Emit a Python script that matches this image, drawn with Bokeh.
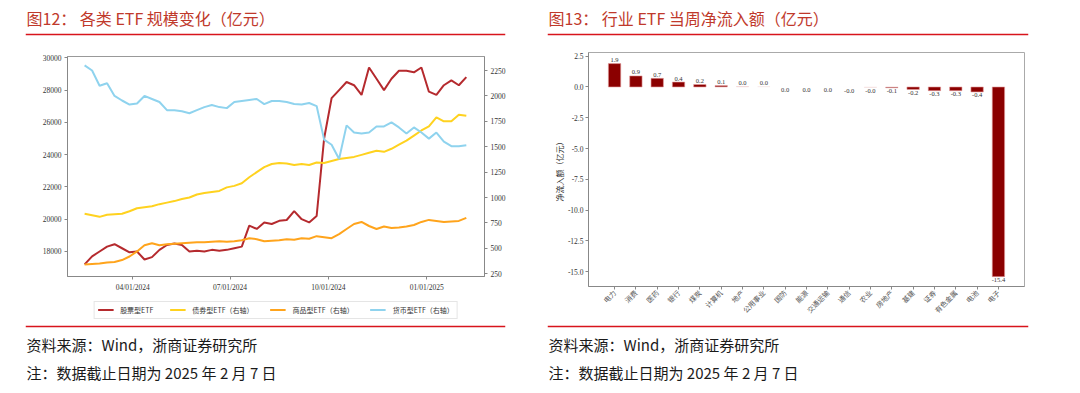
import math
import pandas as pd
from bokeh.plotting import figure
from bokeh.models import (Range1d, LinearAxis, FixedTicker, DatetimeTickFormatter, Legend,
                          LegendItem, Span, Label, ColumnDataSource, FactorRange,
                          PrintfTickFormatter)
from bokeh.layouts import row, column
from bokeh.embed import file_html
from bokeh.resources import INLINE
from bokeh.core.properties import value

# ---------------- data: figure 12 (weekly, 2024-02-16 .. 2025-02-07) ----------------
dates = pd.date_range("2024-02-16", "2025-02-07", freq="7D")
stock_etf = [17200, 17700, 18000, 18300, 18450, 18200, 17950, 18000, 17500, 17650,
             18100, 18400, 18500, 18400, 18000, 18050, 18000, 18100, 18050, 18100,
             18200, 18300, 19600, 19400, 19800, 19700, 19900, 19950, 20500, 20000,
             19800, 20200, 25000, 27500, 28000, 28500, 28300, 27700, 29400, 28700,
             28000, 28700, 29200, 29200, 29100, 29400, 27900, 27700, 28300, 28600,
             28300, 28800]
bond_etf = [840, 825, 810, 830, 835, 840, 865, 895, 905, 915,
            935, 950, 965, 985, 1000, 1030, 1045, 1055, 1065, 1100,
            1115, 1140, 1200, 1250, 1300, 1330, 1340, 1335, 1320, 1330,
            1320, 1345, 1340, 1360, 1380, 1390, 1400, 1420, 1440, 1460,
            1450, 1480, 1520, 1560, 1610, 1660, 1700, 1790, 1750, 1750,
            1815, 1805]
commodity_etf = [340, 345, 350, 360, 365, 385, 420, 470, 530, 550,
                 530, 540, 545, 550, 555, 560, 560, 565, 570, 565,
                 570, 580, 600, 590, 570, 575, 580, 590, 585, 600,
                 595, 620, 610, 600, 640, 690, 740, 760, 720, 690,
                 715, 700, 705, 715, 730, 760, 780, 770, 760, 765,
                 770, 800]
money_etf = [2300, 2250, 2100, 2125, 2000, 1955, 1915, 1925, 2000, 1970,
             1940, 1860, 1860, 1850, 1830, 1860, 1890, 1910, 1890, 1880,
             1940, 1950, 1960, 1970, 1920, 1950, 1950, 1940, 1920, 1915,
             1930, 1900, 1570, 1520, 1380, 1710, 1640, 1630, 1640, 1700,
             1700, 1740, 1690, 1630, 1690, 1640, 1580, 1640, 1550, 1505,
             1505, 1515]
series_names = ["股票型ETF", "债券型ETF（右轴）", "商品型ETF（右轴）", "货币型ETF（右轴）"]
x_tick_dates = ["2024-04-01", "2024-07-01", "2024-10-01", "2025-01-01"]
left_ticks = [18000, 20000, 22000, 24000, 26000, 28000, 30000]
right_ticks = [250, 500, 750, 1000, 1250, 1500, 1750, 2000, 2250]

# ---------------- data: figure 13 ----------------
industries = ["电力", "消费", "医药", "银行", "煤炭", "计算机", "地产", "公用事业", "国防",
              "能源", "交通运输", "通信", "农业", "房地产", "基建", "证券", "有色金属",
              "电池", "电子"]
flows = [1.9, 0.9, 0.7, 0.4, 0.2, 0.12, 0.03, 0.02, 0.0, 0.0, 0.0, -0.004, -0.03,
         -0.08, -0.2, -0.3, -0.3, -0.4, -15.4]
flow_ticks = [-15.0, -12.5, -10.0, -7.5, -5.0, -2.5, 0.0, 2.5]

title12 = "图12：  各类  ETF  规模变化（亿元）"
title13 = "图13：  行业  ETF  当周净流入额（亿元）"
source_text = "资料来源：Wind，浙商证券研究所"
note_text = "注：数据截止日期为 2025 年 2 月 7 日"

# ---------------- styles ----------------
CJK = "Noto Sans CJK SC"
SERIF = "Liberation Serif"
TITLE_RED = "#C0392B"
RULE_RED = "#D8141C"
PANEL_W = 540
COLORS = ["#B52A2E", "#FFD21F", "#FFA41C", "#8FD3EE"]


def ms(d):
    return pd.Timestamp(d).value // 10**6


def style_axis(ax):
    ax.axis_line_color = "#888888"
    ax.major_tick_line_color = "#888888"
    ax.minor_tick_line_color = None
    ax.major_tick_in = 0
    ax.major_tick_out = 3
    ax.major_label_text_font = SERIF
    ax.major_label_text_font_size = "7.5px"
    ax.major_label_text_color = "#333333"
    ax.major_label_standoff = 3


def deco_fig(height, left, right):
    f = figure(width=PANEL_W, height=height,
               x_range=Range1d(0, PANEL_W - left - right), y_range=Range1d(height, 0),
               min_border_left=left, min_border_right=right, min_border_top=0,
               min_border_bottom=0, x_axis_location=None, y_axis_location=None,
               toolbar_location=None, output_backend="svg")
    f.frame_align = False
    f.outline_line_color = None
    f.xgrid.visible = False
    f.ygrid.visible = False
    return f


def header(text, left, right):
    h = deco_fig(44, left, right)
    h.add_layout(Label(x=1, y=17, text=text, text_baseline="middle", text_font=CJK,
                       text_font_size="16px", text_color=TITLE_RED))
    h.add_layout(Span(location=34, dimension="width", line_color=RULE_RED, line_width=1.5))
    return h


def footer(left, right):
    f = deco_fig(70, left, right)
    f.add_layout(Span(location=3, dimension="width", line_color=RULE_RED, line_width=1.5))
    f.add_layout(Label(x=1, y=21, text=source_text, text_baseline="middle", text_font=CJK,
                       text_font_size="15px", text_color="#1a1a1a"))
    f.add_layout(Label(x=1, y=49, text=note_text, text_baseline="middle", text_font=CJK,
                       text_font_size="15px", text_color="#1a1a1a"))
    return f


# ---------------- left chart ----------------
p1 = figure(width=PANEL_W, height=252, x_axis_type="datetime",
            x_range=Range1d(pd.Timestamp("2024-01-31"), pd.Timestamp("2025-02-24")),
            y_range=Range1d(16450, 30080), output_backend="svg", toolbar_location=None,
            min_border_left=67, min_border_right=56, min_border_top=12, min_border_bottom=20)
p1.frame_align = False
p1.extra_y_ranges = {"right": Range1d(223, 2388)}
p1.xgrid.visible = False
p1.ygrid.visible = False
p1.outline_line_color = "#999999"

p1.xaxis.ticker = FixedTicker(ticks=[ms(d) for d in x_tick_dates])
p1.xaxis.formatter = DatetimeTickFormatter(days="%m/%d/%Y", months="%m/%d/%Y",
                                           years="%m/%d/%Y")
p1.yaxis.ticker = FixedTicker(ticks=left_ticks)
raxis = LinearAxis(y_range_name="right", ticker=FixedTicker(ticks=right_ticks))
p1.add_layout(raxis, "right")
for ax in [p1.xaxis[0], p1.yaxis[0], raxis]:
    style_axis(ax)

p1.line(dates, stock_etf, line_color=COLORS[0], line_width=2)
p1.line(dates, bond_etf, y_range_name="right", line_color=COLORS[1], line_width=2)
p1.line(dates, commodity_etf, y_range_name="right", line_color=COLORS[2], line_width=2)
p1.line(dates, money_etf, y_range_name="right", line_color=COLORS[3], line_width=2)

# legend strip below the chart: key-only renderers (a single NaN point, nothing drawn)
lf = figure(width=PANEL_W, height=27, x_range=Range1d(0, 1), y_range=Range1d(0, 1),
            min_border_left=67, min_border_right=56, min_border_top=0, min_border_bottom=0,
            x_axis_location=None, y_axis_location=None, toolbar_location=None,
            output_backend="svg")
lf.frame_align = False
lf.outline_line_color = None
lf.xgrid.visible = False
lf.ygrid.visible = False
keys = [lf.line(x=[float("nan")], y=[float("nan")], line_color=c, line_width=2)
        for c in COLORS]
legend = Legend(items=[LegendItem(label=n, renderers=[r]) for n, r in zip(series_names, keys)],
                orientation="horizontal", location="center")
legend.label_text_font = CJK
legend.label_text_font_size = "7px"
legend.label_text_color = "#333333"
legend.glyph_width = 16
legend.glyph_height = 9
legend.label_height = 9
legend.label_standoff = 7
legend.spacing = 16
legend.padding = 3
legend.margin = 0
legend.border_line_color = "#cccccc"
lf.add_layout(legend)

# ---------------- right chart ----------------
alphas = [min(1.0, abs(v) / 0.15) for v in flows]
labels = [f"{v:.1f}" for v in flows]
src = ColumnDataSource(dict(ind=industries, flow=flows, alpha=alphas, label=labels))
pos = [i for i, v in enumerate(flows) if v > 0]
neg = [i for i, v in enumerate(flows) if v <= 0]
src_pos = ColumnDataSource(dict(ind=[industries[i] for i in pos], flow=[flows[i] for i in pos],
                                label=[labels[i] for i in pos]))
src_neg = ColumnDataSource(dict(ind=[industries[i] for i in neg], flow=[flows[i] for i in neg],
                                label=[labels[i] for i in neg]))

p2 = figure(width=PANEL_W, height=279,
            x_range=FactorRange(factors=industries, range_padding=0.076),
            y_range=Range1d(-16.2, 2.8), output_backend="svg", toolbar_location=None,
            min_border_left=48, min_border_right=56, min_border_top=8, min_border_bottom=37)
p2.frame_align = False
p2.xgrid.visible = False
p2.ygrid.visible = False
p2.outline_line_color = "#aaaaaa"
p2.yaxis.ticker = FixedTicker(ticks=flow_ticks)
p2.yaxis.formatter = PrintfTickFormatter(format="%.1f")
style_axis(p2.xaxis[0])
style_axis(p2.yaxis[0])
p2.yaxis.major_label_standoff = 2
p2.xaxis.major_label_orientation = math.pi / 4
p2.xaxis.major_label_text_font = CJK
p2.xaxis.major_label_text_font_size = "7px"
p2.xaxis.major_label_text_color = "#555555"
p2.xaxis.major_label_standoff = 2
p2.yaxis.axis_label = "净流入额（亿元）"
p2.yaxis.axis_label_text_font = CJK
p2.yaxis.axis_label_text_font_size = "8px"
p2.yaxis.axis_label_text_font_style = "normal"
p2.yaxis.axis_label_text_color = "#333333"
p2.yaxis.axis_label_standoff = 0

p2.vbar(x="ind", top="flow", bottom=0, width=0.58, source=src, fill_color="#8B0000",
        fill_alpha="alpha", line_color="#E6A0A0", line_alpha="alpha", line_width=0.6)
p2.text(x="ind", y="flow", text="label", source=src_pos, text_align="center",
        text_baseline="bottom", y_offset=-1.5, text_font=value(SERIF),
        text_font_size="6.5px", text_color="#333333")
p2.text(x="ind", y="flow", text="label", source=src_neg, text_align="center",
        text_baseline="top", y_offset=1.5, text_font=value(SERIF),
        text_font_size="6.5px", text_color="#333333")

left_panel = column(header(title12, 25, 35), p1, lf, footer(25, 35))
right_panel = column(header(title13, 7, 52), p2, footer(7, 52))
layout = row(left_panel, right_panel)

open("out.html", "w").write(file_html(layout, INLINE))
